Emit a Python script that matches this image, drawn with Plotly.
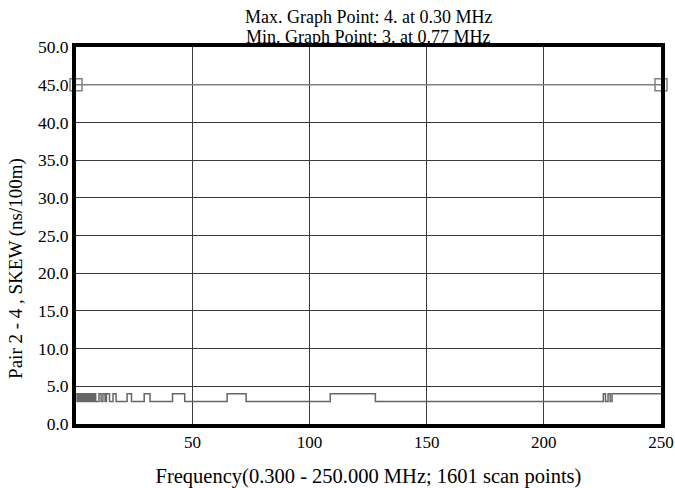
import plotly.graph_objects as go

# Step trace: frequency (MHz) where value changes, and the value from there on
step_freq = [0.30, 0.77, 1.1, 1.5, 1.9, 2.3, 2.7, 3.1, 3.5, 3.9, 4.3, 4.7, 5.1, 5.5,
             5.9, 6.3, 6.7, 7.1, 7.5, 7.9, 8.3, 8.7, 9.2, 10.1, 11.0, 11.8, 12.7,
             13.3, 14.6, 16.1, 17.4, 22.1, 24.0, 29.4, 31.9, 41.5, 46.7, 64.8, 72.9,
             108.8, 128.1, 225.4, 226.3, 227.4, 228.3, 229.1, 250.0]
step_val = [4, 3, 4, 3, 4, 3, 4, 3, 4, 3, 4, 3, 4, 3,
            4, 3, 4, 3, 4, 3, 4, 3, 3, 4, 3, 4, 3,
            4, 3, 4, 3, 4, 3, 4, 3, 4, 3, 4, 3,
            4, 3, 4, 3, 4, 3, 4, 4]

limit_freq = [0.3, 250.0]
limit_val = [45.0, 45.0]

x_ticks = [50, 100, 150, 200, 250]
y_ticks = [0, 5, 10, 15, 20, 25, 30, 35, 40, 45, 50]

title_lines = ["Max. Graph Point: 4. at 0.30 MHz", "Min. Graph Point: 3. at 0.77 MHz"]
x_title = "Frequency(0.300 - 250.000 MHz; 1601 scan points)"
y_title = "Pair 2 - 4 , SKEW (ns/100m)"

font_family = "Liberation Serif, Times New Roman, serif"

fig = go.Figure()
fig.add_trace(go.Scatter(x=limit_freq, y=limit_val, mode="lines+markers",
                         line=dict(color="#808080", width=1.5),
                         marker=dict(symbol="square-open", size=12,
                                     color="#808080", line=dict(width=1.5)),
                         showlegend=False, cliponaxis=False))
fig.add_trace(go.Scatter(x=step_freq, y=step_val, mode="lines",
                         line=dict(color="#666666", width=1.5, shape="hv"),
                         showlegend=False))

fig.add_annotation(text=title_lines[0], xref="paper", yref="paper", x=0.5, y=1.0796,
                   xanchor="center", yanchor="middle", showarrow=False,
                   font=dict(family=font_family, size=18, color="black"))
fig.add_annotation(text=title_lines[1], xref="paper", yref="paper", x=0.5, y=1.0265,
                   xanchor="center", yanchor="middle", showarrow=False,
                   font=dict(family=font_family, size=18, color="black"))
fig.add_annotation(text=y_title, xref="paper", yref="paper", x=-0.1026, y=0.414,
                   xanchor="center", yanchor="middle", showarrow=False, textangle=-90,
                   font=dict(family=font_family, size=19, color="black"))

fig.update_layout(
    width=675, height=488,
    margin=dict(l=76, r=14, t=47, b=64),
    paper_bgcolor="white", plot_bgcolor="white",
    font=dict(family=font_family, size=17, color="black"),
    xaxis=dict(range=[0.3, 250], tickvals=x_ticks, ticktext=[str(v) for v in x_ticks],
               showgrid=True, gridcolor="#3a3a3a", gridwidth=1,
               showline=True, linecolor="black", linewidth=4, mirror=True,
               zeroline=False, ticks="", ticklen=0, automargin=False,
               tickfont=dict(size=17),
               title=dict(text=x_title, standoff=18, font=dict(size=20.5))),
    yaxis=dict(range=[0, 50], tickvals=y_ticks, tickformat=".1f",
               showgrid=True, gridcolor="#3a3a3a", gridwidth=1,
               showline=True, linecolor="black", linewidth=4, mirror=True,
               zeroline=False, ticks="", ticklen=0, automargin=False,
               tickfont=dict(size=17.5)),
)

# remove the default 8px page margin so the figure fills the window exactly
fig.write_html("out.html",
               config={"displayModeBar": False},
               post_script="document.body.style.margin='0';document.body.style.overflow='hidden';")
